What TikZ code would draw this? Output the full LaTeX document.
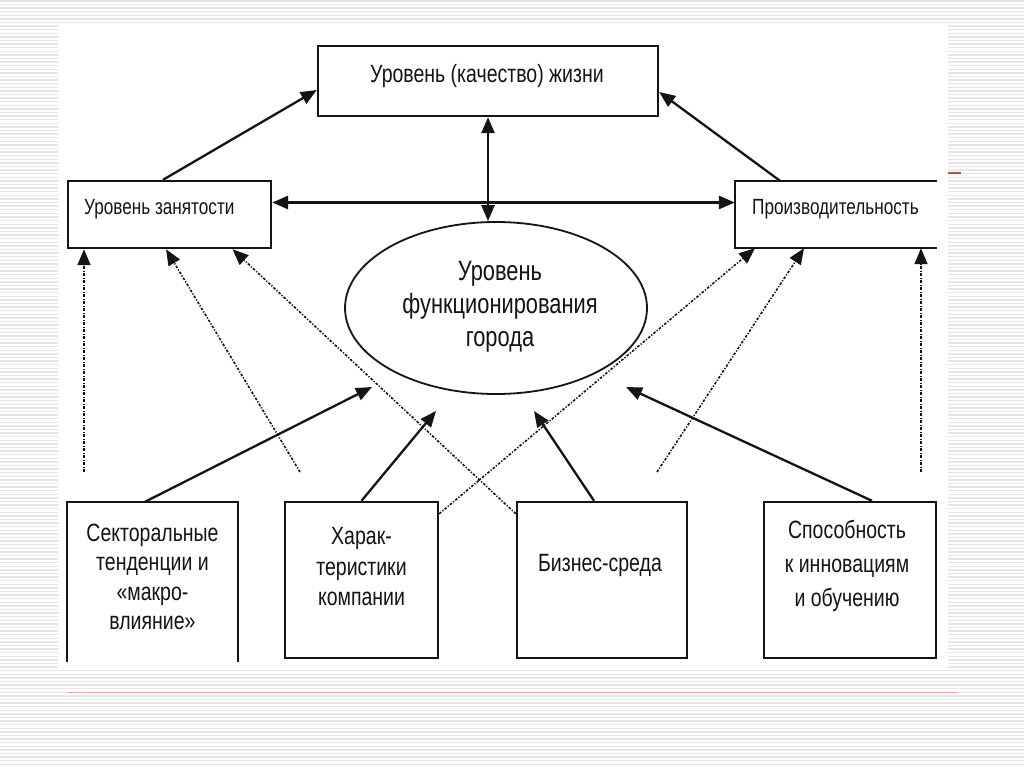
\documentclass[tikz,border=0pt]{standalone}
\usepackage{fontspec}
\setmainfont{Liberation Sans}[FakeStretch=0.78]
\usetikzlibrary{arrows.meta,shapes.geometric}
\definecolor{stripe}{HTML}{E6E6E6}
\definecolor{ink}{HTML}{141414}
\definecolor{redline}{HTML}{E8A8A8}
\definecolor{reddash}{HTML}{C0504D}
\begin{document}
\begin{tikzpicture}[x=1pt,y=-1pt,
  box/.style={draw=ink,line width=2.4pt,rectangle,inner sep=0pt},
  openbox/.style={rectangle,inner sep=0pt},
  edge/.style={draw=ink,line width=2.4pt},
  txt/.style={text=ink,align=center,inner sep=0pt},
  sidetxt/.style={text=ink,inner sep=0pt,anchor=west,font=\fontsize{22}{26}\selectfont},
  bottxt/.style={text=ink,align=center,inner sep=0pt,font=\fontsize{25}{30}\selectfont},
  tip/.style={-{Triangle[length=16pt,width=13pt]}},
  tipboth/.style={{Triangle[length=16pt,width=13pt]}-{Triangle[length=16pt,width=13pt]}},
  solidarrow/.style={draw=ink,line width=2.3pt,tip},
  dotarrow/.style={draw=ink,line width=1.6pt,dash pattern=on 2.6pt off 1.6pt on 1.2pt off 1.6pt,tip}]
\useasboundingbox (0,0) rectangle (1024,767);
% background
\fill[white] (0,0) rectangle (1024,767);
\foreach \i in {0,...,213} \draw[stripe,line width=1.4pt] (0,\i*3.6+1) -- (1024,\i*3.6+1);
\fill[white] (58,23) rectangle (948,668);
\draw[redline,line width=1pt] (67,692) -- (957,692);
\draw[reddash,line width=1.4pt] (948,173) -- (961,173);

% top box
\node[box,minimum width=340pt,minimum height=70pt] (top) at (488,81) {};
\node[txt,font=\fontsize{25}{28}\selectfont] (toptxt) at (487,76) {Уровень (качество) жизни};

% side boxes
\node[box,minimum width=203pt,minimum height=67pt] (lb) at (169.5,214.5) {};
\node[sidetxt] (lbtxt) at (84,209) {Уровень занятости};
\node[openbox,minimum width=202pt,minimum height=67pt] (rb) at (836,214.5) {};
\draw[edge] (rb.north east) -- (rb.north west) -- (rb.south west) -- (rb.south east);
\node[sidetxt] (rbtxt) at (752,209) {Производительность};

% ellipse
\node[ellipse,draw=ink,line width=1.8pt,minimum width=302pt,minimum height=172pt,inner sep=0pt] (el) at (496,308) {};
\node[txt,font=\fontsize{28}{33}\selectfont] (eltxt) at (500,307) {Уровень\\функционирования\\города};

% bottom boxes
\node[openbox,minimum width=171pt,minimum height=160pt] (b1) at (152.5,582) {};
\draw[edge] (b1.south west) -- (b1.north west) -- (b1.north east) -- (b1.south east);
\node[bottxt,font=\fontsize{25}{29.5}\selectfont] (b1txt) at (152.5,577) {Секторальные\\тенденции и\\«макро-\\влияние»};

\node[box,minimum width=153pt,minimum height=156pt] (b2) at (361.5,580) {};
\node[bottxt,font=\fontsize{25}{30.5}\selectfont] (b2txt) at (361.5,567) {Харак-\\теристики\\компании};

\node[box,minimum width=170pt,minimum height=156pt] (b3) at (602,580) {};
\node[bottxt] (b3txt) at (600,565) {Бизнес-среда};

\node[box,minimum width=172pt,minimum height=156pt] (b4) at (850,580) {};
\node[bottxt,font=\fontsize{25}{34}\selectfont] (b4txt) at (847,566) {Способность\\к инновациям\\и обучению};

% connectors among upper level
\draw[solidarrow] ([xshift=-6.5pt]lb.north) -- ([yshift=-9pt]top.west);
\draw[solidarrow] ([xshift=-56pt]rb.north) -- ([yshift=-11pt]top.east);
\draw[draw=ink,line width=2.4pt,tipboth] (top.south) -- (top.south |- el.north);
\draw[draw=ink,line width=3pt,tipboth] ([yshift=12pt]lb.east) -- ([yshift=12pt]rb.west);

% dotted influences
\coordinate (pa) at (84,472);
\coordinate (pb) at (300,472);
\coordinate (pe) at (657,472);
\coordinate (pf) at (921,472);
\draw[dotarrow] (pa) -- ([xshift=-85.5pt]lb.south);
\draw[dotarrow] (pb) -- ([xshift=-3.5pt]lb.south);
\draw[dotarrow] ([yshift=-13pt]b3.north west) -- ([xshift=63pt]lb.south);
\draw[dotarrow] ([yshift=-13pt]b2.north east) -- ([xshift=-81pt]rb.south);
\draw[dotarrow] (pe) -- ([xshift=-32pt]rb.south);
\draw[dotarrow] (pf) -- ([xshift=85pt]rb.south);

% solid arrows toward the ellipse
\coordinate (eg) at (372,387);
\coordinate (eh) at (436,411);
\coordinate (ei) at (534,411);
\coordinate (ej) at (626,387);
\draw[solidarrow] ([xshift=-7.5pt]b1.north) -- (eg);
\draw[solidarrow] (b2.north) -- (eh);
\draw[solidarrow] ([xshift=-8pt]b3.north) -- (ei);
\draw[solidarrow] ([xshift=22pt]b4.north) -- (ej);
\end{tikzpicture}
\end{document}
